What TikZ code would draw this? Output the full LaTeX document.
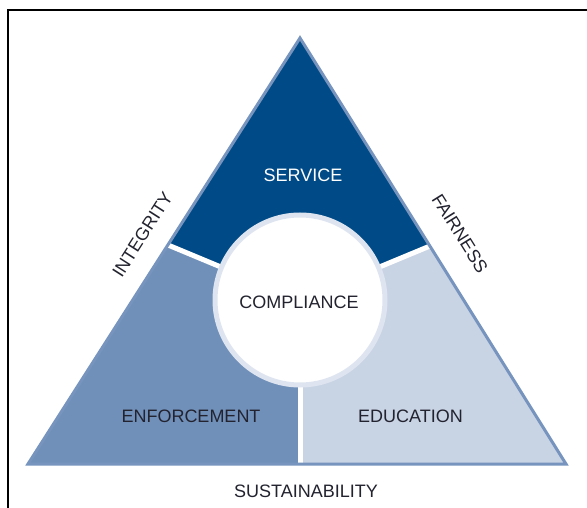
\documentclass[tikz,border=0pt]{standalone}
\usepackage{fontspec}
\setmainfont{Liberation Sans}
\begin{document}
\definecolor{serviceblue}{RGB}{0,75,135}
\definecolor{enforceblue}{RGB}{112,144,186}
\definecolor{educateblue}{RGB}{200,211,228}
\definecolor{edgeblue}{RGB}{118,148,190}
\definecolor{ringgrey}{RGB}{222,229,240}
\definecolor{labelink}{RGB}{35,35,48}
\begin{tikzpicture}[x=1pt,y=-1pt,
  label/.style={inner sep=0pt,font=\fontsize{18}{18}\selectfont,text=labelink},
  divider/.style={draw=white,line width=5pt}]
\useasboundingbox (0,0) rectangle (587,508);
\fill[white] (0,0) rectangle (587,508);
% open frame
\draw[line width=2pt] (8,508) -- (8,10) -- (587,10);
% triangle corners, circle centre and divider ends
\coordinate (A) at (300,38);
\coordinate (BL) at (28,464);
\coordinate (BR) at (566,464);
\coordinate (C) at (300,300);
\coordinate (L) at (168,245);
\coordinate (R) at (430,246);
\coordinate (B) at (300,464);
% three sectors
\fill[serviceblue] (A) -- (R) -- (C) -- (L) -- cycle;
\fill[enforceblue] (L) -- (C) -- (B) -- (BL) -- cycle;
\fill[educateblue] (R) -- (BR) -- (B) -- (C) -- cycle;
% white separators
\draw[divider] (C) -- (L);
\draw[divider] (C) -- (R);
\draw[divider] (C) -- (B);
% triangle outline
\draw[edgeblue,line width=3pt,line join=miter] (A) -- (BR) -- (BL) -- cycle;
% central disc
\draw[ringgrey,fill=white,line width=5pt] (C) circle (85);
% labels
\node[label,text=white] (service) at (303,175) {SERVICE};
\node[label] (compliance) at (299,302) {COMPLIANCE};
\node[label] (enforcement) at (191,416) {ENFORCEMENT};
\node[label] (education) at (410.5,416) {EDUCATION};
\node[label] (sustainability) at (306,491) {SUSTAINABILITY};
\node[label,rotate=57.4] (integrity) at (142.5,234.5) {INTEGRITY};
\node[label,rotate=-58] (fairness) at (460,233.5) {FAIRNESS};
\end{tikzpicture}
\end{document}
